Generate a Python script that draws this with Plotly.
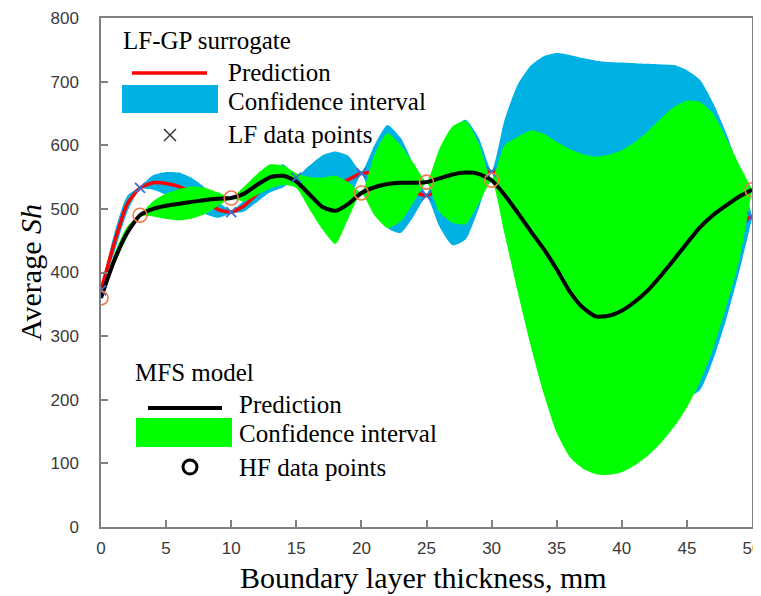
import plotly.graph_objects as go

# ---------------- data ----------------
x_grid = list(range(0, 51))

lf_mean = [372, 445, 507, 533, 541, 540, 535, 526, 512, 499,
           495, 505, 524, 543, 552, 549, 540, 535, 537, 546,
           556, 556, 550, 538, 527, 521, 530, 542, 552, 557,
           558, 557, 562, 567, 570, 572, 571, 566, 561, 555,
           550, 537, 519, 493, 470, 455, 460, 465, 472, 480, 487]
lf_upper = [373, 460, 520, 535, 553, 558, 557, 548, 533, 512,
            497, 514, 537, 560, 570, 551, 568, 584, 590, 583,
            558, 600, 632, 612, 570, 523, 585, 625, 640, 612,
            560, 640, 695, 725, 740, 745, 742, 737, 733, 731,
            730, 729, 728, 727, 726, 718, 703, 667, 620, 562, 489]
lf_lower = [371, 430, 494, 531, 530, 522, 513, 504, 492, 486,
            493, 496, 511, 526, 534, 547, 512, 488, 485, 510,
            554, 505, 470, 462, 488, 519, 472, 443, 452, 500,
            556, 475, 430, 410, 400, 400, 400, 395, 390, 380,
            370, 345, 310, 265, 225, 205, 215, 262, 325, 400, 485]

mfs_mean = [360, 418, 462, 490, 500, 505, 508, 511, 514, 516,
            517, 524, 538, 550, 552, 543, 523, 503, 497, 508,
            525, 534, 539, 541, 541, 542, 548, 554, 557, 555,
            545, 522, 494, 465, 437, 405, 370, 345, 331, 332,
            340, 354, 372, 395, 420, 446, 471, 490, 505, 519, 530]
mfs_upper = [361, 428, 472, 491, 512, 524, 531, 535, 533, 526,
             518, 535, 555, 570, 568, 556, 550, 549, 552, 542,
             526, 585, 619, 600, 572, 543, 595, 630, 638, 603,
             546, 600, 613, 623, 618, 605, 594, 586, 582, 585,
             592, 605, 622, 642, 660, 670, 668, 650, 612, 570, 531]
mfs_lower = [359, 410, 455, 489, 488, 484, 482, 485, 492, 505,
             516, 512, 522, 532, 538, 533, 500, 468, 445, 485,
             524, 490, 470, 480, 510, 541, 495, 478, 476, 508,
             544, 460, 370, 285, 210, 148, 110, 92, 83, 82,
             86, 97, 112, 132, 157, 188, 228, 280, 345, 418, 529]

lf_pts_x = [0, 3, 10, 15, 20, 25, 30, 50]
lf_pts_y = [372, 533, 495, 549, 556, 521, 558, 487]
hf_pts_x = [0, 3, 10, 20, 25, 30, 50]
hf_pts_y = [360, 490, 517, 525, 542, 545, 530]

x_ticks = [0, 5, 10, 15, 20, 25, 30, 35, 40, 45, 50]
y_ticks = [0, 100, 200, 300, 400, 500, 600, 700, 800]

BLUE = "#00B2E4"
GREEN = "#00FF00"
RED = "#FF0000"
ORANGE = "#F07A4C"
XBLUE = "#3A6FD0"
SERIF = "Liberation Serif, Times New Roman, serif"
SANS = "Liberation Sans, Arial, sans-serif"

fig = go.Figure()
sm = 0.6
# LF band
fig.add_trace(go.Scatter(x=x_grid, y=lf_lower, mode="lines",
                         line=dict(width=0, shape="spline", smoothing=sm),
                         showlegend=False, hoverinfo="skip"))
fig.add_trace(go.Scatter(x=x_grid, y=lf_upper, mode="lines", fill="tonexty",
                         fillcolor=BLUE,
                         line=dict(width=0, shape="spline", smoothing=sm),
                         showlegend=False, hoverinfo="skip"))
fig.add_trace(go.Scatter(x=x_grid, y=lf_mean, mode="lines",
                         line=dict(color=RED, width=3.5, shape="spline", smoothing=sm),
                         showlegend=False))
# MFS band
fig.add_trace(go.Scatter(x=x_grid, y=mfs_lower, mode="lines",
                         line=dict(width=0, shape="spline", smoothing=sm),
                         showlegend=False, hoverinfo="skip"))
fig.add_trace(go.Scatter(x=x_grid, y=mfs_upper, mode="lines", fill="tonexty",
                         fillcolor=GREEN,
                         line=dict(width=0, shape="spline", smoothing=sm),
                         showlegend=False, hoverinfo="skip"))
fig.add_trace(go.Scatter(x=x_grid, y=mfs_mean, mode="lines",
                         line=dict(color="black", width=4, shape="spline", smoothing=sm),
                         showlegend=False))
# data points
fig.add_trace(go.Scatter(x=lf_pts_x, y=lf_pts_y, mode="markers",
                         marker=dict(symbol="x-thin", size=10,
                                     line=dict(color=XBLUE, width=1.8)),
                         showlegend=False))
fig.add_trace(go.Scatter(x=hf_pts_x, y=hf_pts_y, mode="markers",
                         marker=dict(symbol="circle-open", size=14,
                                     line=dict(color=ORANGE, width=1.6),
                                     color=ORANGE),
                         showlegend=False))

# ---------------- layout ----------------
# page has an 8 px body margin
OFF = 8
W, H = 761, 588
L, R, T, B = 93, 17, 10, 69
PW, PH = W - L - R, H - T - B


def px(x):  # page pixel -> paper
    return (x - OFF - L) / PW


def py(y):
    return (H - B - (y - OFF)) / PH


shapes = []
annotations = []

# Legend group 1 (LF-GP surrogate)
annotations.append(dict(x=px(121), y=py(40), text="LF-GP surrogate"))
shapes.append(dict(type="line", x0=px(132), x1=px(207), y0=py(73), y1=py(73),
                   line=dict(color=RED, width=3.5)))
annotations.append(dict(x=px(226), y=py(72), text="Prediction"))
shapes.append(dict(type="rect", x0=px(122), x1=px(218), y0=py(113), y1=py(85),
                   fillcolor=BLUE, line=dict(width=0)))
annotations.append(dict(x=px(226), y=py(101), text="Confidence interval"))
shapes.append(dict(type="line", x0=px(164), x1=px(176), y0=py(129), y1=py(141),
                   line=dict(color="#333333", width=1.5)))
shapes.append(dict(type="line", x0=px(164), x1=px(176), y0=py(141), y1=py(129),
                   line=dict(color="#333333", width=1.5)))
annotations.append(dict(x=px(226), y=py(135), text="LF data points"))

# Legend group 2 (MFS model)
annotations.append(dict(x=px(133), y=py(372), text="MFS model"))
shapes.append(dict(type="line", x0=px(148), x1=px(222), y0=py(408), y1=py(408),
                   line=dict(color="black", width=4)))
annotations.append(dict(x=px(237), y=py(404), text="Prediction"))
shapes.append(dict(type="rect", x0=px(136), x1=px(232), y0=py(447), y1=py(418),
                   fillcolor=GREEN, line=dict(width=0)))
annotations.append(dict(x=px(237), y=py(433), text="Confidence interval"))
shapes.append(dict(type="circle", x0=px(183), x1=px(197), y0=py(474), y1=py(460),
                   line=dict(color="black", width=3)))
annotations.append(dict(x=px(237), y=py(467), text="HF data points"))

for a in annotations:
    a.update(xref="paper", yref="paper", xanchor="left", yanchor="middle",
             showarrow=False, font=dict(family=SERIF, size=25, color="black"))
for s in shapes:
    s.update(xref="paper", yref="paper", layer="above")

# x-axis title placed as text below the tick labels
annotations.append(dict(x=px(423), y=py(577), xref="paper", yref="paper",
                        xanchor="center", yanchor="middle", showarrow=False,
                        text="Boundary layer thickness, mm",
                        font=dict(family=SERIF, size=30, color="black")))

axis_common = dict(showline=True, linecolor="#7f7f7f", linewidth=1.5, mirror=True,
                   ticks="inside", ticklen=7, tickcolor="#7f7f7f", tickwidth=1.5,
                   showgrid=False, zeroline=False, automargin=False,
                   ticklabeloverflow="allow",
                   tickfont=dict(family=SANS, size=17, color="#3a3a3a"))

fig.update_layout(
    width=W, height=H,
    margin=dict(l=L, r=R, t=T, b=B, pad=0),
    paper_bgcolor="white", plot_bgcolor="white",
    showlegend=False,
    shapes=shapes, annotations=annotations,
    xaxis=dict(range=[0, 50], tickvals=x_ticks, ticktext=[str(v) for v in x_ticks],
               ticklabelstandoff=5, **axis_common),
    yaxis=dict(range=[0, 800], tickvals=y_ticks, ticktext=[str(v) for v in y_ticks],
               ticklabelstandoff=17,
               title=dict(text="Average <i>Sh</i>",
                          font=dict(family=SERIF, size=30, color="black"), standoff=0),
               **axis_common),
)

fig.write_html("out.html")
